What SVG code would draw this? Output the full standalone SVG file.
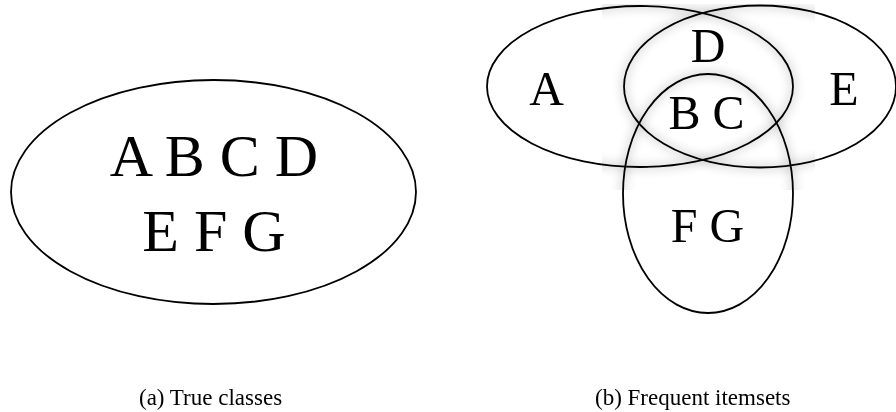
<svg xmlns="http://www.w3.org/2000/svg" width="896" height="412" viewBox="0 0 896 412">
  <style>
    .ring { fill: none; stroke: #000; stroke-width: 1.8; }
    .halo { fill: none; stroke: #000; stroke-width: 6; opacity: 0.16; }
    .big { font-family: "Liberation Serif", "Times New Roman", serif; font-size: 60px; fill: #000; text-anchor: middle; }
    .mid { font-family: "Liberation Serif", "Times New Roman", serif; font-size: 48px; fill: #000; text-anchor: middle; }
    .cap { font-family: "Liberation Serif", "Times New Roman", serif; font-size: 23px; fill: #000; text-anchor: start; }
  </style>
  <defs>
    <filter id="soft" x="-20%" y="-20%" width="140%" height="140%">
      <feGaussianBlur stdDeviation="5"/>
    </filter>
    <clipPath id="hazeArea">
      <rect x="602" y="4" width="213" height="186"/>
    </clipPath>
  </defs>
  <rect width="896" height="412" fill="#fff"/>

  <!-- (a) a single class holding every item -->
  <g id="true-classes">
    <ellipse class="ring" cx="213.5" cy="192" rx="202.5" ry="112"/>
    <text class="big" x="214" y="176">A B C D</text>
    <text class="big" x="214" y="251">E F G</text>
  </g>

  <!-- soft shading around the overlap of the itemsets -->
  <g id="overlap-shade" clip-path="url(#hazeArea)" filter="url(#soft)">
    <ellipse class="halo" cx="640" cy="86.5" rx="153" ry="80.5"/>
    <ellipse class="halo" cx="760" cy="86.5" rx="136" ry="81"/>
    <ellipse class="halo" cx="708" cy="193.5" rx="85" ry="119.5"/>
  </g>

  <!-- (b) three overlapping frequent itemsets -->
  <g id="itemset-left">
    <ellipse class="ring" cx="640" cy="86.5" rx="153" ry="80.5"/>
    <text class="mid" x="546.5" y="105">A</text>
  </g>
  <g id="itemset-right">
    <ellipse class="ring" cx="760" cy="86.5" rx="136" ry="81"/>
    <text class="mid" x="844" y="105">E</text>
  </g>
  <g id="itemset-lower">
    <ellipse class="ring" cx="708" cy="193.5" rx="85" ry="119.5"/>
    <text class="mid" x="707.5" y="242">F G</text>
  </g>
  <g id="overlap-labels">
    <text class="mid" x="708" y="62">D</text>
    <text class="mid" x="706.5" y="129">B C</text>
  </g>

  <!-- captions -->
  <text class="cap" x="139" y="405">(a) True classes</text>
  <text class="cap" x="595" y="405">(b) Frequent itemsets</text>
</svg>
